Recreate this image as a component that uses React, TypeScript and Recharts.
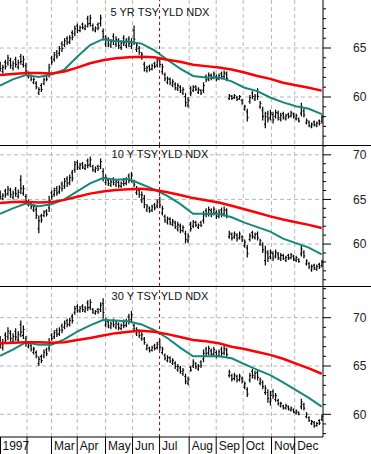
import React from "react";
import { ComposedChart, Bar, Line, XAxis, YAxis, CartesianGrid, ReferenceLine } from "recharts";

// trading-day index of each bar (two-day bars) and of moving-average samples
const dayIdx: number[] = Array.from({ length: 126 }, (_, i) => i * 2);
const maIdx: number[] = Array.from({ length: 26 }, (_, i) => i * 10);

const monthTicks = [0, 21, 40, 60, 82, 103, 124, 147, 168, 189, 211, 229];
const monthLabels = ["1997", "", "Mar", "Apr", "May", "Jun", "Jul", "Aug", "Sep", "Oct", "Nov", "Dec"];
const markerDay = 124;

// 5 YR
const p1Hi = [63.6,63.3,63.8,64.3,64.0,63.7,64.1,63.8,64.4,64.2,
63.5,62.6,62.3,62.0,61.6,61.0,61.4,62.0,62.3,63.4,
64.2,64.6,64.8,65.2,65.7,66.0,66.2,66.3,66.8,67.3,
67.5,67.3,67.6,67.4,68.3,68.4,67.5,67.2,67.6,68.4,
67.0,66.3,66.1,65.9,66.5,66.2,66.0,65.8,66.3,66.0,
66.2,66.0,67.3,65.6,65.2,64.6,63.6,63.2,63.3,63.4,
63.6,64.0,64.1,63.4,62.5,62.1,62.0,61.8,61.5,61.4,
61.2,61.0,60.4,60.0,61.1,61.2,61.2,61.0,60.8,61.5,
62.3,62.5,62.4,62.6,62.3,62.4,62.6,62.7,62.6,60.3,
60.2,60.3,60.1,60.2,59.8,59.2,58.8,60.2,60.6,60.3,
60.9,59.6,59.0,58.5,58.6,58.7,58.5,58.7,58.6,58.4,
58.5,58.3,58.4,58.6,58.4,58.3,57.9,59.4,58.8,57.8,
57.6,57.4,57.6,57.5,57.7,58.2];
const p1Lo = [62.6,62.4,62.8,63.2,62.9,62.7,63.0,62.8,63.3,63.0,
62.3,61.9,61.6,61.3,60.8,60.2,60.5,61.2,61.6,62.0,
63.3,63.6,63.9,64.2,64.6,65.1,65.3,65.4,65.8,66.2,
66.5,66.6,66.9,66.8,67.1,67.2,66.7,66.6,66.8,67.2,
65.8,65.1,65.1,65.0,65.3,65.1,64.9,64.8,65.2,65.0,
65.1,64.9,65.3,64.6,64.3,63.8,62.6,62.5,62.6,62.7,
62.9,63.0,63.0,62.3,61.6,61.3,61.2,61.0,60.7,60.6,
60.4,60.2,59.0,58.9,60.1,60.5,60.6,60.3,60.2,60.4,
61.5,61.6,61.7,61.8,61.6,61.7,61.8,61.9,61.6,59.7,
59.7,59.8,59.6,59.7,59.2,58.6,57.5,59.3,59.8,59.6,
59.7,58.8,57.6,56.8,57.4,57.6,57.3,57.8,57.6,57.5,
57.7,57.6,57.8,57.9,57.8,57.6,57.4,58.0,57.9,57.2,
56.9,56.8,57.0,56.9,57.1,57.3];
const p1Fast = [61.15,61.8,62.25,62.05,62.3,62.8,64.1,65.3,65.9,65.7,65.65,65.45,64.75,63.8,62.9,62.15,62.0,62.0,61.6,60.95,60.6,59.95,59.45,59.05,58.8,58.25];
const p1Slow = [62.25,62.35,62.45,62.45,62.4,62.6,63.0,63.45,63.75,63.95,64.05,64.1,64.05,63.8,63.6,63.3,63.15,63.0,62.8,62.5,62.15,61.85,61.45,61.2,60.95,60.65];

// 10 Y
const p2Hi = [66.0,65.7,66.2,66.5,66.3,66.0,66.4,66.1,67.7,66.6,
65.6,65.0,64.8,64.5,64.2,63.2,63.4,63.8,63.9,65.4,
66.0,66.3,66.5,66.6,67.0,67.4,67.6,67.8,68.3,69.3,
69.4,69.1,69.2,69.0,69.6,69.8,68.9,68.7,68.9,69.6,
68.5,67.8,67.4,67.2,67.5,67.3,67.1,67.0,67.4,67.5,
67.9,68.1,67.2,66.5,66.3,65.9,65.5,64.5,64.2,64.4,
64.6,65.0,65.3,64.3,63.3,63.1,63.0,62.8,62.6,62.5,
62.3,62.1,61.5,61.2,62.5,62.7,62.6,62.3,62.6,63.7,
64.0,64.2,64.0,64.2,63.8,63.9,64.1,64.2,64.0,61.5,
61.3,61.4,61.2,61.4,61.0,60.5,59.9,61.2,61.5,61.3,
61.4,60.6,60.2,59.8,59.3,59.4,59.2,59.4,59.1,59.0,
58.9,58.7,58.9,59.0,58.8,58.7,58.4,59.8,59.3,58.3,
58.0,57.7,57.8,57.7,57.9,58.2];
const p2Lo = [65.0,64.9,65.2,65.4,65.2,65.0,65.3,65.1,65.6,65.4,
64.5,64.2,63.9,63.6,62.8,61.2,62.4,63.0,63.1,63.6,
65.0,65.3,65.4,65.6,65.9,66.2,66.4,66.6,67.0,68.0,
68.3,68.3,68.4,68.3,68.5,68.6,68.1,68.0,68.2,68.4,
67.0,66.6,66.5,66.4,66.6,66.4,66.3,66.3,66.5,66.6,
66.8,66.9,66.4,65.5,65.2,64.6,64.0,63.6,63.5,63.6,
63.8,64.0,64.0,63.2,62.4,62.2,62.1,62.0,61.7,61.4,
61.2,61.3,60.1,60.1,61.4,61.8,61.9,61.7,61.9,62.3,
63.0,63.1,63.0,63.2,62.8,62.9,63.0,63.1,62.9,60.6,
60.4,60.6,60.3,60.5,60.2,59.6,58.5,60.3,60.6,60.5,
60.4,59.8,59.0,57.6,58.0,58.3,58.1,58.4,58.2,58.1,
58.2,58.0,58.2,58.3,58.1,58.0,57.9,58.6,58.4,57.6,
57.2,56.9,57.1,57.0,57.2,57.4];
const p2Fast = [63.4,64.0,64.55,64.25,64.45,65.0,65.9,66.8,67.4,67.2,67.3,66.7,66.1,65.4,64.5,63.4,63.4,63.4,63.0,62.4,61.9,61.4,60.6,60.1,59.6,58.85];
const p2Slow = [64.6,64.7,64.75,64.65,64.7,64.95,65.3,65.65,65.9,66.05,66.15,66.2,66.05,65.8,65.5,65.15,64.9,64.65,64.3,63.9,63.5,63.1,62.75,62.45,62.15,61.8];

// 30 Y
const p3Hi = [68.1,67.8,68.5,69.0,68.7,68.4,68.9,68.6,69.7,69.2,
68.1,67.5,67.3,67.0,66.6,66.0,66.2,66.7,66.9,67.9,
68.4,68.7,68.9,69.0,69.4,69.7,69.9,70.0,70.4,71.2,
71.4,71.2,71.4,71.2,71.8,71.9,71.0,70.8,71.0,71.6,
72.0,70.0,69.8,69.6,69.9,69.7,69.5,69.4,69.8,69.9,
70.4,70.7,69.4,69.0,68.8,68.5,68.0,67.3,67.0,67.1,
67.3,67.5,67.8,67.0,66.3,66.1,66.0,65.8,65.5,65.2,
65.0,64.8,64.2,63.9,65.0,65.7,65.4,65.2,65.6,66.7,
67.0,67.1,66.8,67.0,66.6,66.7,67.0,67.1,66.9,64.6,
64.2,64.3,64.1,64.2,63.9,63.4,62.8,64.3,64.7,64.5,
64.6,63.8,63.5,63.0,62.6,62.4,62.6,62.2,61.6,61.3,
61.0,61.1,60.9,60.8,60.6,60.5,60.3,61.6,61.2,60.2,
59.8,59.4,59.3,59.2,59.5,60.0];
const p3Lo = [66.8,66.6,67.3,67.7,67.5,67.3,67.6,67.4,68.0,67.8,
67.0,66.8,66.5,66.2,65.8,65.0,65.3,65.8,66.0,66.5,
67.6,67.8,68.0,68.1,68.4,68.8,69.0,69.1,69.4,70.3,
70.5,70.5,70.6,70.5,70.7,70.8,70.4,70.3,70.4,70.6,
69.9,69.0,68.9,68.8,69.0,68.8,68.7,68.7,68.9,69.0,
69.3,69.5,68.6,68.1,67.9,67.6,67.2,66.6,66.4,66.5,
66.6,66.7,66.6,66.2,65.6,65.4,65.3,65.1,64.7,64.4,
64.2,64.0,63.1,63.0,64.4,64.8,64.7,64.5,64.8,65.4,
66.0,66.1,65.9,66.0,65.8,65.9,66.0,66.1,65.9,63.8,
63.4,63.5,63.3,63.4,63.2,62.6,61.8,63.3,63.7,63.6,
63.5,63.0,62.6,62.0,61.2,60.9,61.6,61.3,60.9,60.7,
60.5,60.5,60.4,60.3,60.1,60.0,59.9,60.5,60.4,59.6,
59.2,58.9,58.6,58.7,58.9,59.3];
const p3Fast = [66.05,66.7,67.45,67.2,67.2,67.75,68.55,69.2,69.75,69.7,69.6,69.3,68.7,67.9,66.9,66.0,66.0,66.0,65.8,65.2,64.6,64.05,63.3,62.5,61.7,60.8];
const p3Slow = [67.35,67.4,67.45,67.45,67.4,67.45,67.7,67.9,68.15,68.4,68.55,68.65,68.55,68.3,68.0,67.7,67.55,67.35,67.0,66.75,66.45,66.15,65.75,65.25,64.75,64.2];

const titles = ["5 YR TSY YLD NDX", "10 Y TSY YLD NDX", "30 Y TSY YLD NDX"];
const p1Ticks = [56,57,58,59,60,61,62,63,64,65,66,67,68,69];
const p2Ticks = [56,57,58,59,60,61,62,63,64,65,66,67,68,69,70,71];
const p3Ticks = [58,59,60,61,62,63,64,65,66,67,68,69,70,71,72,73];
const p1Major = [60, 65];
const p2Major = [60, 65, 70];
const p3Major = [60, 65, 70];

const W = 371;
const PLOT_W = 323;
const FONT = "'Liberation Sans', Arial, Helvetica, sans-serif";
const TEAL = "#16887b";
const RED = "#ff0000";

function buildRows(hi: number[], lo: number[], fast: number[], slow: number[]) {
  return dayIdx.map((d, i) => {
    const m = maIdx.indexOf(d);
    return {
      d,
      range: [lo[i], hi[i]],
      fast: m >= 0 ? fast[m] : null,
      slow: m >= 0 ? slow[m] : null,
    };
  });
}

// high-low bar with short side ticks (left near top, right near bottom) for OHLC texture
const HLBar = (props: any) => {
  const { x, y, width, height, index } = props;
  if (x == null || y == null || isNaN(x) || isNaN(y)) return null;
  const cx = x + width / 2;
  const top = Math.min(y, y + height);
  const bot = Math.max(y, y + height);
  const h = bot - top;
  const tR = index % 2 === 0 ? top + h * 0.7 : top + h * 0.3;
  const tL = index % 2 === 0 ? top + h * 0.25 : top + h * 0.75;
  return (
    <g>
      <line x1={cx} x2={cx} y1={top} y2={bot} stroke="#000" strokeWidth={1.2} />
      <line x1={cx - 1.3} x2={cx} y1={tL} y2={tL} stroke="#000" strokeWidth={1} />
      <line x1={cx} x2={cx + 1.3} y1={tR} y2={tR} stroke="#000" strokeWidth={1} />
    </g>
  );
};

const makeYTick = (majors: number[]) => (props: any) => {
  const { x, y, payload } = props;
  const major = majors.includes(payload.value);
  return (
    <g>
      <line x1={x} x2={x + (major ? 8 : 3)} y1={y} y2={y} stroke="#000" strokeWidth={1} />
      {major && (
        <text x={x + 30} y={y} dy="0.36em" fontSize={12} fill="#222" fontFamily={FONT} textAnchor="start">
          {payload.value}
        </text>
      )}
    </g>
  );
};

const XTick = (props: any) => {
  const { x, y, payload } = props;
  const i = monthTicks.indexOf(payload.value);
  const lx = Math.max(x, 0.5);
  return (
    <g>
      <line x1={lx} x2={lx} y1={y} y2={y + 17} stroke="#000" strokeWidth={1} />
      <text x={x + 2.5} y={y + 13} fontSize={12} fill="#111" fontFamily={FONT} textAnchor="start">
        {monthLabels[i]}
      </text>
    </g>
  );
};

const gridMonths = monthTicks.filter((t) => t !== 0 && t !== markerDay);

function Panel(props: {
  rows: any[];
  domain: [number, number];
  ticks: number[];
  majors: number[];
  height: number;
  showX: boolean;
}) {
  const { rows, domain, ticks, majors, height, showX } = props;
  return (
    <ComposedChart width={W} height={height} data={rows} margin={{ top: 0, right: 0, bottom: 0, left: 0 }}>
      <CartesianGrid
        stroke="#b8b8b8"
        strokeDasharray="4 3"
        horizontalValues={majors}
        verticalValues={gridMonths}
      />
      <XAxis
        type="number"
        dataKey="d"
        domain={[0, 251]}
        ticks={monthTicks}
        interval={0}
        hide={!showX}
        height={showX ? 17 : 0}
        tickSize={0}
        tickMargin={0}
        tickLine={false}
        axisLine={{ stroke: "#000" }}
        tick={XTick}
      />
      <YAxis
        orientation="right"
        width={W - PLOT_W}
        domain={domain}
        allowDataOverflow
        type="number"
        ticks={ticks}
        interval={0}
        tickSize={0}
        tickMargin={0}
        tickLine={false}
        axisLine={{ stroke: "#000" }}
        tick={makeYTick(majors)}
      />
      <ReferenceLine x={markerDay} stroke="#990000" strokeDasharray="3 3" strokeWidth={1} />
      <Bar dataKey="range" shape={HLBar} barSize={1} isAnimationActive={false} />
      <Line dataKey="fast" stroke={TEAL} strokeWidth={2} dot={false} activeDot={false} connectNulls isAnimationActive={false} />
      <Line dataKey="slow" stroke={RED} strokeWidth={2.5} dot={false} activeDot={false} connectNulls isAnimationActive={false} />
    </ComposedChart>
  );
}

const titleStyle = (top: number): React.CSSProperties => ({
  position: "absolute",
  top,
  left: 60,
  width: 200,
  textAlign: "center",
  fontFamily: FONT,
  fontSize: 11,
  lineHeight: "14px",
  color: "#111",
  pointerEvents: "none",
});

const sepStyle = (top: number): React.CSSProperties => ({
  position: "absolute",
  top,
  left: 0,
  width: W,
  height: 1,
  background: "#000",
});

export default function App() {
  const rows1 = buildRows(p1Hi, p1Lo, p1Fast, p1Slow);
  const rows2 = buildRows(p2Hi, p2Lo, p2Fast, p2Slow);
  const rows3 = buildRows(p3Hi, p3Lo, p3Fast, p3Slow);
  return (
    <div style={{ position: "absolute", top: 0, left: 0, width: W, height: 454, background: "#fff", overflow: "hidden" }}>
      <div style={{ position: "absolute", top: 0, left: 0 }}>
        <Panel rows={rows1} domain={[55.1, 69.9]} ticks={p1Ticks} majors={p1Major} height={145} showX={false} />
      </div>
      <div style={{ position: "absolute", top: 145, left: 0 }}>
        <Panel rows={rows2} domain={[55.3, 71.1]} ticks={p2Ticks} majors={p2Major} height={141} showX={false} />
      </div>
      <div style={{ position: "absolute", top: 286, left: 0 }}>
        <Panel rows={rows3} domain={[57.65, 73.28]} ticks={p3Ticks} majors={p3Major} height={168} showX={true} />
      </div>
      <div style={sepStyle(145)} />
      <div style={sepStyle(286)} />
      <div style={titleStyle(5)}>{titles[0]}</div>
      <div style={titleStyle(147)}>{titles[1]}</div>
      <div style={titleStyle(289)}>{titles[2]}</div>
    </div>
  );
}
